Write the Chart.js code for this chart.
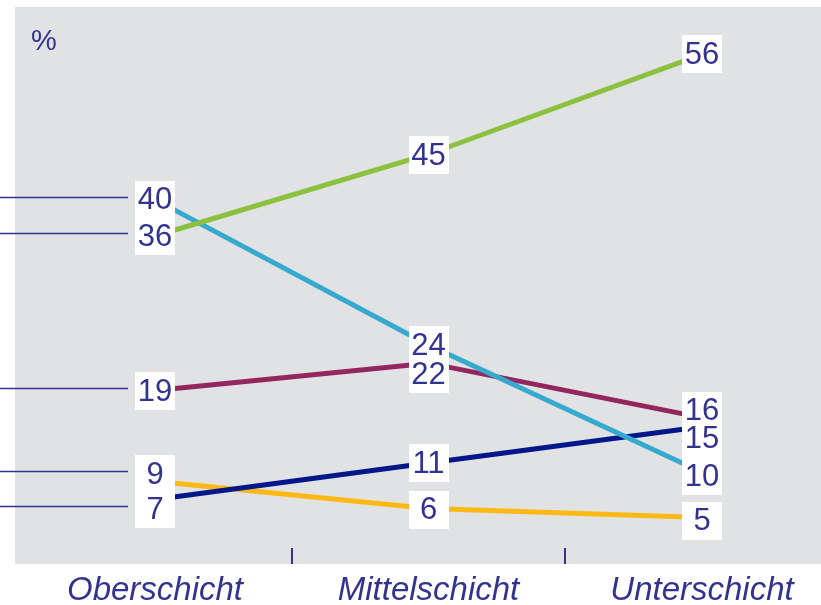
<!DOCTYPE html>
<html>
<head>
<meta charset="utf-8">
<script src="https://cdn.jsdelivr.net/npm/chart.js@4.4.0/dist/chart.umd.min.js"></script>
<style>
  html, body { margin: 0; padding: 0; background: #fff; }
  #wrap { width: 821px; height: 605px; position: relative; }
</style>
</head>
<body>
<div id="wrap"><canvas id="chart"></canvas></div>
<script>
const categories = ['Oberschicht', 'Mittelschicht', 'Unterschicht'];
const greenValues = [36, 45, 56];
const lightBlueValues = [40, 24, 10];
const purpleValues = [19, 22, 16];
const navyValues = [7, 11, 15];
const yellowValues = [9, 6, 5];
const yMin = 0;
const yMax = 60;

// pixel nudges so stacked labels do not overlap
const labelNudge = [
  [0, 1, 0],
  [0, 0, 4],
  [1, 11, -7],
  [10, 0, 12],
  [-7, 1, 3]
];

const textColor = '#32338f';

const panelPlugin = {
  id: 'panel',
  beforeDraw(chart) {
    const ctx = chart.ctx;
    ctx.save();
    ctx.fillStyle = '#e1e2e4';
    ctx.fillRect(15, 7, chart.width - 15, 557);
    ctx.restore();
  },
  afterDatasetsDraw(chart) {
    const ctx = chart.ctx;
    ctx.save();
    ctx.font = '31px "Liberation Sans", Arial, sans-serif';
    ctx.textAlign = 'center';
    ctx.textBaseline = 'middle';
    const boxes = [];
    chart.data.datasets.forEach((ds, di) => {
      const meta = chart.getDatasetMeta(di);
      meta.data.forEach((pt, i) => {
        boxes.push({ x: pt.x, y: pt.y + labelNudge[di][i], text: String(ds.data[i]), first: i === 0 });
      });
    });
    ctx.fillStyle = '#fff';
    boxes.forEach(b => ctx.fillRect(Math.round(b.x - 20), Math.round(b.y - 19), 40, 38));
    boxes.forEach(b => {
      ctx.fillStyle = textColor;
      ctx.fillText(b.text, b.x, b.y + 1);
      if (b.first) {
        ctx.strokeStyle = textColor;
        ctx.lineWidth = 1.5;
        ctx.beginPath();
        ctx.moveTo(0, Math.round(b.y - 3) + 0.5);
        ctx.lineTo(b.x - 27, Math.round(b.y - 3) + 0.5);
        ctx.stroke();
      }
    });
    ctx.restore();
  },
  afterDraw(chart) {
    const ctx = chart.ctx;
    const x = chart.scales.x;
    ctx.save();
    ctx.strokeStyle = textColor;
    ctx.lineWidth = 2;
    for (let i = 0; i < categories.length - 1; i++) {
      const px = Math.round((x.getPixelForValue(i) + x.getPixelForValue(i + 1)) / 2);
      ctx.beginPath();
      ctx.moveTo(px, 548);
      ctx.lineTo(px, 564);
      ctx.stroke();
    }
    ctx.fillStyle = textColor;
    ctx.font = '29px "Liberation Sans", Arial, sans-serif';
    ctx.textBaseline = 'middle';
    ctx.fillText('%', 31, 42);
    ctx.restore();
  }
};

function line(data, color) {
  return { data, borderColor: color, borderWidth: 5, pointRadius: 0, tension: 0, fill: false };
}

new Chart(document.getElementById('chart'), {
  type: 'line',
  data: {
    labels: categories,
    datasets: [
      line(greenValues, '#8cc13f'),
      line(lightBlueValues, '#36a9cf'),
      line(purpleValues, '#93265f'),
      line(navyValues, '#03168a'),
      line(yellowValues, '#fdb913')
    ]
  },
  options: {
    responsive: true,
    maintainAspectRatio: false,
    animation: false,
    layout: { padding: { left: 155, right: 119, top: 18, bottom: 0 } },
    plugins: { legend: { display: false }, tooltip: { enabled: false } },
    scales: {
      x: {
        offset: false,
        grid: { display: false, drawTicks: false, tickLength: 0 },
        border: { display: false },
        afterFit(scale) { scale.height = 42; },
        ticks: {
          color: textColor,
          padding: 11,
          maxRotation: 0,
          autoSkip: false,
          font: { family: '"Liberation Sans", Arial, sans-serif', size: 33, style: 'italic', lineHeight: 1 }
        }
      },
      y: { display: false, min: yMin, max: yMax }
    }
  },
  plugins: [panelPlugin]
});
</script>
</body>
</html>
